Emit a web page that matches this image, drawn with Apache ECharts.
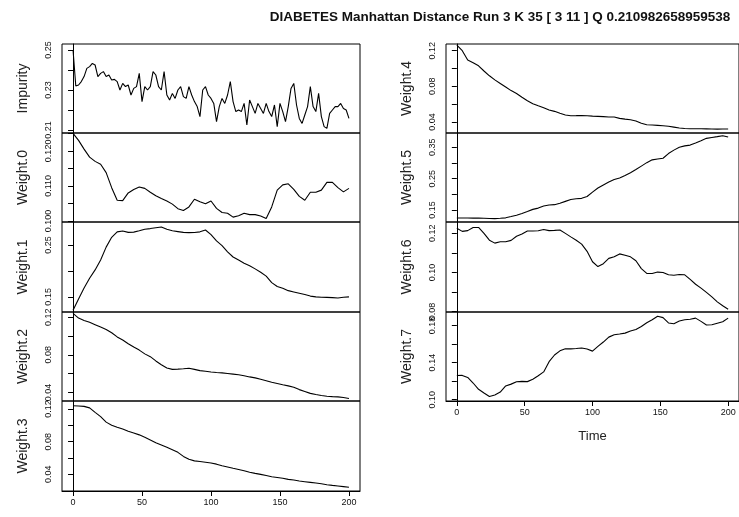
<!DOCTYPE html>
<html>
<head>
<meta charset="utf-8">
<script src="https://cdn.jsdelivr.net/npm/echarts@6/dist/echarts.min.js"></script>
<style>html,body{margin:0;padding:0;background:#fff}#c{width:739px;height:517px}</style>
</head>
<body>
<div id="c"></div>
<script>
const chartTitle = "DIABETES Manhattan Distance Run 3 K 35 [ 3 11 ] Q 0.210982658959538";
const xTicks = [0, 50, 100, 150, 200];

const timeFine = [0,2,4,6,8,10,12,14,16,18,20,22,24,26,28,30,32,34,36,38,40,42,44,46,48,50,52,54,56,58,60,62,64,66,68,70,72,74,76,78,80,82,84,86,88,90,92,94,96,98,100,102,104,106,108,110,112,114,116,118,120,122,124,126,128,130,132,134,136,138,140,142,144,146,148,150,152,154,156,158,160,162,164,166,168,170,172,174,176,178,180,182,184,186,188,190,192,194,196,198,200];
const timeCoarse = [0,4,8,12,16,20,24,28,32,36,40,44,48,52,56,60,64,68,72,76,80,84,88,92,96,100,104,108,112,116,120,124,128,132,136,140,144,148,152,156,160,164,168,172,176,180,184,188,192,196,200];

const impurity = [0.2500,0.2320,0.2325,0.2342,0.2367,0.2408,0.2417,0.2433,0.2425,0.2367,
0.2383,0.2392,0.2367,0.2375,0.2350,0.2353,0.2342,0.2300,0.2333,0.2317,
0.2325,0.2275,0.2308,0.2317,0.2383,0.2242,0.2317,0.2300,0.2317,0.2392,
0.2375,0.2317,0.2300,0.2392,0.2275,0.2250,0.2283,0.2258,0.2300,0.2317,
0.2267,0.2258,0.2317,0.2275,0.2242,0.2217,0.2167,0.2300,0.2317,0.2275,
0.2258,0.2233,0.2142,0.2217,0.2258,0.2233,0.2275,0.2342,0.2242,0.2192,
0.2200,0.2192,0.2233,0.2125,0.2250,0.2217,0.2183,0.2233,0.2208,0.2183,
0.2233,0.2192,0.2167,0.2225,0.2117,0.2233,0.2192,0.2142,0.2217,0.2308,
0.2333,0.2225,0.2158,0.2133,0.2175,0.2217,0.2317,0.2217,0.2192,0.2283,
0.2167,0.2117,0.2108,0.2183,0.2200,0.2217,0.2217,0.2233,0.2208,0.2200,
0.2158];

const weight0 = [0.1250,0.1230,0.1205,0.1182,0.1170,0.1162,0.1138,0.1095,0.1059,0.1058,
0.1080,0.1090,0.1097,0.1093,0.1082,0.1072,0.1064,0.1057,0.1048,0.1035,
0.1030,0.1040,0.1062,0.1055,0.1049,0.1057,0.1036,0.1024,0.1022,0.1011,
0.1015,0.1022,0.1018,0.1018,0.1014,0.1007,0.1040,0.1088,0.1103,0.1106,
0.1090,0.1070,0.1059,0.1082,0.1082,0.1088,0.1110,0.1110,0.1095,0.1083,
0.1093];

const weight1 = [0.1240,0.1460,0.1670,0.1860,0.2020,0.2210,0.2460,0.2650,0.2755,0.2770,
0.2745,0.2750,0.2775,0.2805,0.2818,0.2835,0.2850,0.2805,0.2775,0.2760,
0.2745,0.2740,0.2742,0.2755,0.2790,0.2700,0.2580,0.2490,0.2370,0.2270,
0.2210,0.2150,0.2100,0.2040,0.1975,0.1900,0.1775,0.1700,0.1665,0.1620,
0.1595,0.1570,0.1545,0.1515,0.1500,0.1494,0.1490,0.1485,0.1478,0.1492,
0.1500];

const weight2 = [0.1240,0.1190,0.1165,0.1145,0.1120,0.1095,0.1070,0.1035,0.0990,0.0958,
0.0918,0.0882,0.0850,0.0810,0.0780,0.0735,0.0695,0.0660,0.0645,0.0648,
0.0652,0.0657,0.0645,0.0632,0.0625,0.0618,0.0612,0.0608,0.0602,0.0595,
0.0588,0.0578,0.0565,0.0555,0.0540,0.0525,0.0508,0.0495,0.0482,0.0470,
0.0455,0.0430,0.0410,0.0390,0.0378,0.0368,0.0360,0.0355,0.0353,0.0347,
0.0335];

const weight3 = [0.1240,0.1238,0.1233,0.1215,0.1160,0.1108,0.1040,0.1003,0.0978,0.0955,
0.0928,0.0907,0.0884,0.0855,0.0822,0.0786,0.0760,0.0733,0.0703,0.0670,
0.0620,0.0585,0.0565,0.0558,0.0549,0.0540,0.0525,0.0505,0.0490,0.0474,
0.0460,0.0445,0.0425,0.0412,0.0400,0.0385,0.0370,0.0362,0.0352,0.0338,
0.0330,0.0318,0.0310,0.0302,0.0294,0.0285,0.0273,0.0265,0.0258,0.0250,
0.0241];

const weight4 = [0.1262,0.1200,0.1095,0.1065,0.1030,0.0972,0.0918,0.0872,0.0832,0.0792,
0.0752,0.0720,0.0678,0.0638,0.0605,0.0582,0.0560,0.0535,0.0519,0.0497,
0.0478,0.0470,0.0471,0.0473,0.0470,0.0465,0.0463,0.0460,0.0455,0.0455,
0.0440,0.0432,0.0425,0.0410,0.0385,0.0368,0.0365,0.0362,0.0358,0.0352,
0.0342,0.0332,0.0326,0.0324,0.0324,0.0323,0.0322,0.0321,0.0320,0.0321,
0.0321];

const weight5 = [0.1244,0.1244,0.1244,0.1242,0.1240,0.1236,0.1230,0.1225,0.1235,0.1250,
0.1290,0.1335,0.1390,0.1450,0.1520,0.1560,0.1630,0.1660,0.1670,0.1715,
0.1775,0.1835,0.1858,0.1872,0.1930,0.2070,0.2200,0.2300,0.2390,0.2470,
0.2520,0.2600,0.2690,0.2790,0.2900,0.3010,0.3100,0.3125,0.3150,0.3300,
0.3410,0.3500,0.3545,0.3570,0.3638,0.3710,0.3785,0.3815,0.3840,0.3870,
0.3830];

const weight6 = [0.1226,0.1210,0.1214,0.1230,0.1230,0.1200,0.1165,0.1150,0.1157,0.1157,
0.1164,0.1185,0.1197,0.1212,0.1212,0.1213,0.1220,0.1214,0.1215,0.1217,
0.1200,0.1182,0.1165,0.1145,0.1108,0.1055,0.1030,0.1045,0.1072,0.1080,
0.1095,0.1088,0.1080,0.1060,0.1020,0.0995,0.0995,0.1002,0.1000,0.0988,
0.0986,0.0990,0.0988,0.0965,0.0940,0.0920,0.0898,0.0875,0.0850,0.0830,
0.0812];

const weight7 = [0.1261,0.1262,0.1240,0.1180,0.1112,0.1072,0.1035,0.1050,0.1082,0.1148,
0.1168,0.1193,0.1198,0.1195,0.1220,0.1258,0.1300,0.1410,0.1482,0.1527,
0.1550,0.1548,0.1552,0.1558,0.1547,0.1524,0.1575,0.1622,0.1675,0.1700,
0.1708,0.1718,0.1740,0.1758,0.1790,0.1830,0.1862,0.1900,0.1885,0.1828,
0.1820,0.1848,0.1862,0.1868,0.1880,0.1845,0.1805,0.1808,0.1825,0.1840,
0.1880];

// panel tick values (labelled subset) and axis ranges
const panels = [
  {name:'Impurity', t:timeFine,   v:impurity, col:0,row:0, min:0.2085,max:0.2530, ticks:[0.21,0.22,0.23,0.24,0.25], labels:[0.21,0.23,0.25], dec:2},
  {name:'Weight.0', t:timeCoarse, v:weight0,  col:0,row:1, min:0.0997,max:0.1251, ticks:[0.100,0.105,0.110,0.115,0.120,0.125], labels:[0.100,0.110,0.120], dec:3},
  {name:'Weight.1', t:timeCoarse, v:weight1,  col:0,row:2, min:0.1208,max:0.2945, ticks:[0.15,0.20,0.25], labels:[0.15,0.25], dec:2},
  {name:'Weight.2', t:timeCoarse, v:weight2,  col:0,row:3, min:0.0309,max:0.1255, ticks:[0.04,0.06,0.08,0.10,0.12], labels:[0.04,0.08,0.12], dec:2},
  {name:'Weight.3', t:timeCoarse, v:weight3,  col:0,row:4, min:0.0196,max:0.1299, ticks:[0.04,0.06,0.08,0.10,0.12], labels:[0.04,0.08,0.12], dec:2, bottom:true},
  {name:'Weight.4', t:timeCoarse, v:weight4,  col:1,row:0, min:0.0276,max:0.1275, ticks:[0.04,0.06,0.08,0.10,0.12], labels:[0.04,0.08,0.12], dec:2},
  {name:'Weight.5', t:timeCoarse, v:weight5,  col:1,row:1, min:0.1117,max:0.3956, ticks:[0.15,0.20,0.25,0.30,0.35], labels:[0.15,0.25,0.35], dec:2},
  {name:'Weight.6', t:timeCoarse, v:weight6,  col:1,row:2, min:0.0798,max:0.1258, ticks:[0.08,0.09,0.10,0.11,0.12], labels:[0.08,0.10,0.12], dec:2},
  {name:'Weight.7', t:timeCoarse, v:weight7,  col:1,row:3, min:0.0986,max:0.1946, ticks:[0.10,0.12,0.14,0.16,0.18], labels:[0.10,0.14,0.18], dec:2, bottom:true, xname:'Time'}
];

const rowEdges = [44, 133, 222, 312, 401, 491];
const colLeft = [62, 446];
const plotW = 298;
const FONT = 'Liberation Sans, Arial, sans-serif';

const grids = [], xAxes = [], yAxes = [], series = [];
panels.forEach((p, i) => {
  grids.push({left: colLeft[p.col], top: rowEdges[p.row], width: plotW,
    height: rowEdges[p.row + 1] - rowEdges[p.row], show: true,
    borderColor: '#000', borderWidth: 1, backgroundColor: 'transparent', containLabel: false});
  xAxes.push({type: 'value', gridIndex: i, min: -8, max: 208, show: !!p.bottom,
    axisLine: {show: true, lineStyle: {color: '#000', width: 1}},
    axisTick: {show: true, length: 5, customValues: xTicks, lineStyle: {color: '#000'}},
    axisLabel: {show: true, customValues: xTicks, fontSize: 9, margin: 7, color: '#111', fontFamily: FONT},
    splitLine: {show: false},
    name: p.xname || '', nameLocation: 'middle', nameGap: 29,
    nameTextStyle: {fontSize: 13, color: '#222', fontFamily: FONT}});
  const dec = p.dec;
  yAxes.push({type: 'value', gridIndex: i, min: p.min, max: p.max,
    axisLine: {show: true, lineStyle: {color: '#000', width: 1}},
    axisTick: {show: true, length: 5, customValues: p.ticks, lineStyle: {color: '#000'}},
    axisLabel: {show: true, customValues: p.labels, rotate: 90, fontSize: 9, margin: 9,
      color: '#111', fontFamily: FONT, formatter: v => Number(v).toFixed(dec)},
    splitLine: {show: false},
    name: p.name, nameLocation: 'middle', nameGap: 32, nameRotate: 90,
    nameTextStyle: {fontSize: 14, color: '#222', fontFamily: FONT}});
  series.push({type: 'line', xAxisIndex: i, yAxisIndex: i, showSymbol: false, symbol: 'none',
    lineStyle: {color: '#000', width: 1.1}, data: p.t.map((t, k) => [t, p.v[k]]), animation: false});
});

const chart = echarts.init(document.getElementById('c'), null, {renderer: 'canvas'});
chart.setOption({
  backgroundColor: '#fff',
  animation: false,
  title: {text: chartTitle, left: 495, top: 5, textAlign: 'center',
    textStyle: {fontSize: 13.5, fontWeight: 'bold', color: '#111', fontFamily: FONT}},
  grid: grids, xAxis: xAxes, yAxis: yAxes, series: series
});
</script>
</body>
</html>
